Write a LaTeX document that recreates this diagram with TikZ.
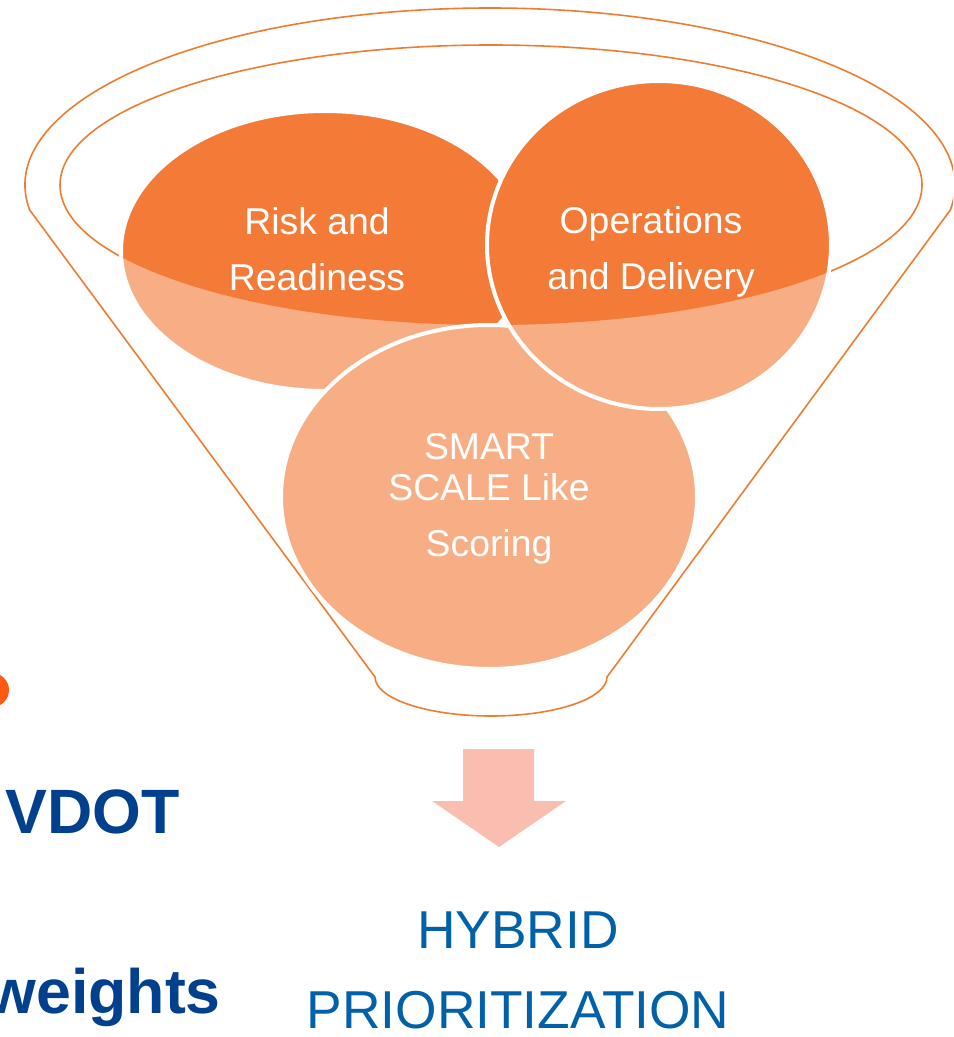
\documentclass[tikz,border=0pt]{standalone}
\usepackage{fontspec}
\setmainfont{Liberation Sans}
\definecolor{rimorange}{RGB}{237,125,49}
\definecolor{darkpetal}{RGB}{244,122,56}
\definecolor{lightpetal}{RGB}{248,174,133}
\definecolor{arrowpink}{RGB}{249,190,176}
\definecolor{dotorange}{RGB}{255,90,20}
\definecolor{vdotblue}{RGB}{0,64,140}
\definecolor{hybridblue}{RGB}{0,96,168}

\begin{document}
\begin{tikzpicture}[x=0.75pt,y=-0.75pt]
  \tikzstyle{rim}=[draw=rimorange,line width=1.2pt]
  \tikzstyle{petaltext}=[text=white,align=center,inner sep=0pt,font=\fontsize{28}{42}\selectfont]
  \tikzstyle{bigtext}=[inner sep=0pt,font=\fontsize{47}{56}\selectfont\bfseries,text=vdotblue]
  \useasboundingbox (0,0) rectangle (953,1037);
  \clip (0,0) rectangle (953,1037);

  % funnel outline and inner rim
  \draw[rim] (375,677) -- (29.66,210)
    arc[start angle=171.88,end angle=368.12,x radius=465,y radius=177]
    -- (607,677)
    arc[start angle=0,end angle=180,x radius=116,y radius=39] -- cycle;
  \draw[rim] (491,185) ellipse [x radius=431,y radius=140];

  % petals: light outside the rim, dark inside
  \foreach \cx/\cy/\rx/\ry in {325/251/204/140, 489/497/208/172, 659/245/172/164} {
    \fill[lightpetal] (\cx,\cy) ellipse [x radius=\rx,y radius=\ry];
    \begin{scope}
      \clip (491,185) ellipse [x radius=431,y radius=140];
      \fill[darkpetal] (\cx,\cy) ellipse [x radius=\rx,y radius=\ry];
    \end{scope}
    \draw[white,line width=3pt] (\cx,\cy) ellipse [x radius=\rx,y radius=\ry];
  }

  \node[petaltext] (risk) at (317,249) {Risk and\\Readiness};
  \node[petaltext] (ops) at (651,252) {Operations\\and Delivery};
  \node[petaltext] (smart) at (489,499) {SMART\\[-11.25pt]SCALE Like\\Scoring};

  % arrow out of the funnel
  \fill[arrowpink] (463,749) -- (534,749) -- (534,801) -- (566,801)
    -- (499,847) -- (432,801) -- (463,801) -- cycle;
  \node[inner sep=0pt,align=center,text=hybridblue,font=\fontsize{40}{60}\selectfont]
    (hybrid) at (518,970) {HYBRID\\PRIORITIZATION};

  % left side
  \fill[dotorange] (-8,690) circle (17);
  \node[bigtext,anchor=base west] (vdot) at (5,833) {VDOT};
  \node[bigtext,anchor=base east] (weights) at (221,1013) {weights};
\end{tikzpicture}
\end{document}
